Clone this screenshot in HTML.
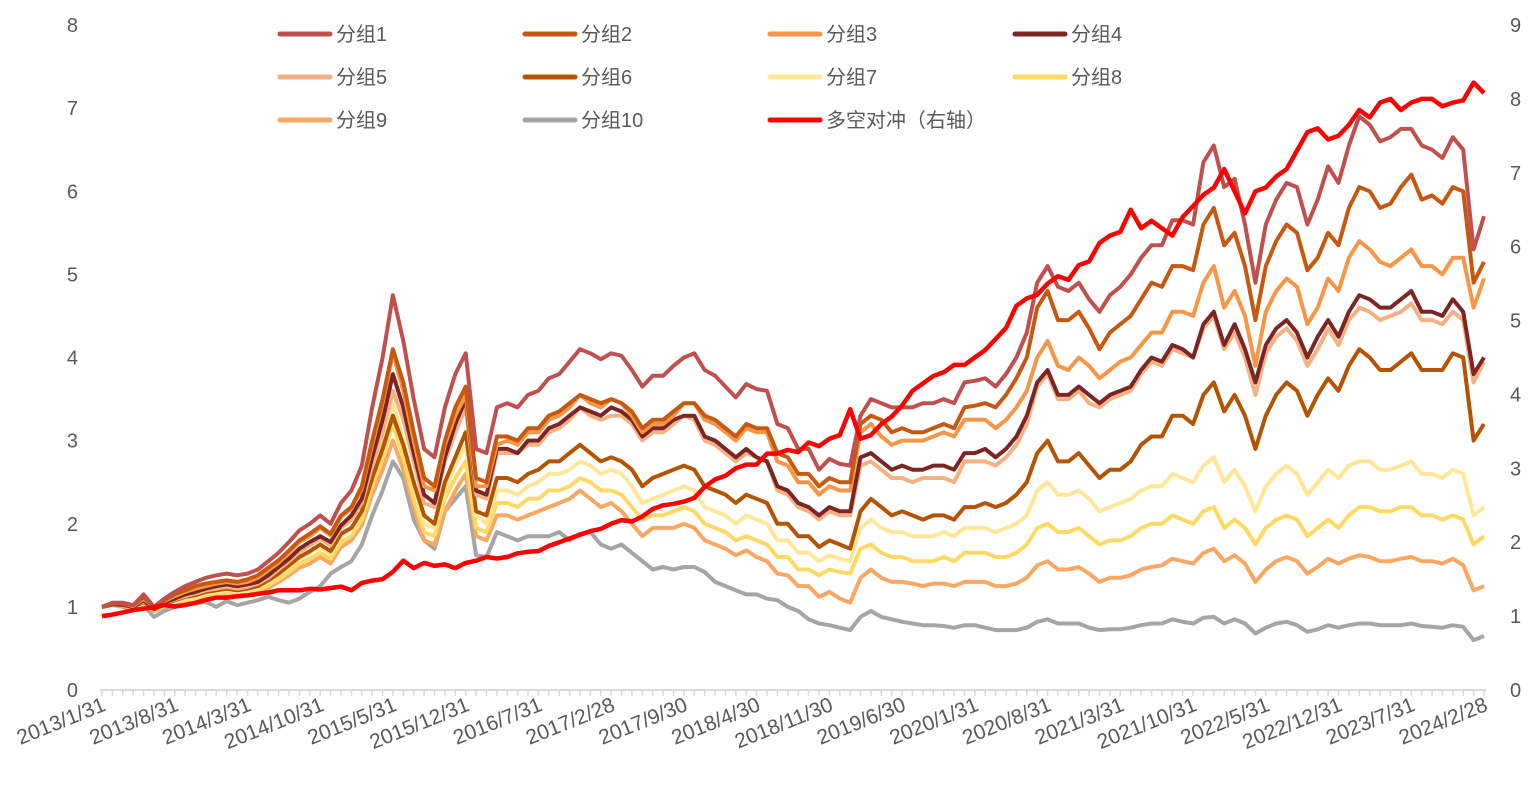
<!DOCTYPE html>
<html><head><meta charset="utf-8"><style>
body{margin:0;background:#fff;}
svg text{font-family:"Liberation Sans","Noto Sans CJK SC",sans-serif;fill:#595959;}
</style></head><body>
<svg id="chart" width="1539" height="789" xmlns="http://www.w3.org/2000/svg"></svg>
<script>
const leftTicks=[0,1,2,3,4,5,6,7,8];
const rightTicks=[0,1,2,3,4,5,6,7,8,9];
const xLabels=["2013/1/31","2013/8/31","2014/3/31","2014/10/31","2015/5/31","2015/12/31","2016/7/31","2017/2/28","2017/9/30","2018/4/30","2018/11/30","2019/6/30","2020/1/31","2020/8/31","2021/3/31","2021/10/31","2022/5/31","2022/12/31","2023/7/31","2024/2/28"];
const seriesNames=["分组1","分组2","分组3","分组4","分组5","分组6","分组7","分组8","分组9","分组10","多空对冲（右轴）"];
const s1=[1.00,1.05,1.05,1.02,1.15,1.00,1.10,1.18,1.25,1.30,1.35,1.38,1.40,1.38,1.40,1.45,1.55,1.65,1.78,1.92,2.00,2.10,2.00,2.25,2.40,2.70,3.40,4.00,4.75,4.20,3.50,2.90,2.80,3.40,3.80,4.05,2.90,2.85,3.40,3.45,3.40,3.55,3.60,3.75,3.80,3.95,4.10,4.05,3.98,4.05,4.02,3.85,3.65,3.78,3.78,3.90,4.00,4.05,3.85,3.78,3.65,3.52,3.68,3.62,3.60,3.20,3.15,2.90,2.90,2.65,2.78,2.72,2.70,3.30,3.50,3.45,3.40,3.40,3.40,3.45,3.45,3.50,3.45,3.70,3.72,3.75,3.65,3.80,4.00,4.30,4.90,5.10,4.85,4.80,4.90,4.70,4.55,4.75,4.85,5.00,5.20,5.35,5.35,5.65,5.65,5.60,6.35,6.55,6.05,6.15,5.60,4.90,5.60,5.90,6.10,6.05,5.60,5.90,6.30,6.10,6.55,6.90,6.80,6.60,6.65,6.75,6.75,6.55,6.50,6.40,6.65,6.50,5.30,5.70];
const s2=[1.00,1.04,1.04,1.02,1.12,1.00,1.08,1.15,1.20,1.25,1.28,1.30,1.32,1.30,1.33,1.38,1.47,1.56,1.68,1.80,1.88,1.97,1.88,2.10,2.20,2.45,3.00,3.50,4.10,3.70,3.10,2.55,2.45,3.00,3.40,3.65,2.55,2.50,3.05,3.05,3.00,3.15,3.15,3.30,3.35,3.45,3.55,3.50,3.45,3.50,3.45,3.35,3.15,3.25,3.25,3.35,3.45,3.45,3.30,3.25,3.15,3.05,3.20,3.15,3.15,2.85,2.80,2.60,2.60,2.45,2.55,2.50,2.50,3.20,3.30,3.25,3.10,3.15,3.10,3.10,3.15,3.20,3.15,3.40,3.42,3.45,3.40,3.55,3.75,4.00,4.60,4.80,4.45,4.45,4.55,4.35,4.10,4.30,4.40,4.50,4.70,4.90,4.85,5.10,5.10,5.05,5.60,5.80,5.35,5.50,5.10,4.45,5.10,5.40,5.60,5.50,5.05,5.20,5.50,5.35,5.80,6.05,6.00,5.80,5.85,6.05,6.20,5.90,5.95,5.85,6.05,6.00,4.90,5.15];
const s3=[1.00,1.04,1.04,1.01,1.10,1.00,1.07,1.13,1.18,1.22,1.25,1.28,1.30,1.28,1.30,1.35,1.44,1.53,1.65,1.78,1.85,1.95,1.86,2.08,2.18,2.42,2.95,3.45,4.05,3.60,3.00,2.45,2.40,2.95,3.30,3.55,2.45,2.45,2.95,3.00,2.95,3.10,3.10,3.25,3.30,3.40,3.55,3.45,3.40,3.50,3.45,3.30,3.10,3.20,3.20,3.30,3.45,3.45,3.25,3.20,3.10,3.00,3.15,3.10,3.10,2.75,2.70,2.50,2.50,2.35,2.45,2.40,2.40,3.10,3.20,3.05,2.95,3.00,3.00,3.00,3.05,3.10,3.05,3.25,3.25,3.25,3.15,3.25,3.40,3.60,4.00,4.20,3.90,3.85,4.00,3.90,3.75,3.85,3.95,4.00,4.15,4.30,4.30,4.55,4.55,4.50,4.90,5.10,4.60,4.80,4.50,3.90,4.55,4.80,4.95,4.85,4.40,4.60,4.95,4.80,5.20,5.40,5.30,5.15,5.10,5.20,5.30,5.10,5.10,5.00,5.20,5.20,4.60,4.95];
const s4=[1.00,1.03,1.03,1.00,1.08,0.98,1.05,1.10,1.15,1.18,1.22,1.25,1.27,1.25,1.27,1.30,1.38,1.48,1.58,1.70,1.78,1.85,1.78,1.98,2.10,2.30,2.80,3.25,3.80,3.40,2.85,2.35,2.25,2.80,3.20,3.50,2.40,2.35,2.90,2.90,2.85,3.00,3.00,3.15,3.20,3.30,3.40,3.35,3.30,3.40,3.35,3.25,3.05,3.15,3.15,3.25,3.30,3.30,3.05,3.00,2.90,2.80,2.90,2.80,2.75,2.45,2.40,2.25,2.20,2.10,2.20,2.15,2.15,2.80,2.85,2.75,2.65,2.70,2.65,2.65,2.70,2.70,2.65,2.85,2.85,2.90,2.80,2.90,3.05,3.30,3.70,3.85,3.55,3.55,3.65,3.55,3.45,3.55,3.60,3.65,3.85,4.00,3.95,4.15,4.10,4.00,4.40,4.55,4.15,4.40,4.10,3.70,4.15,4.35,4.45,4.30,4.00,4.25,4.45,4.25,4.55,4.75,4.70,4.60,4.60,4.70,4.80,4.55,4.55,4.50,4.70,4.55,3.80,4.00];
const s5=[1.00,1.03,1.03,1.00,1.07,0.98,1.04,1.09,1.13,1.16,1.20,1.22,1.24,1.22,1.24,1.28,1.35,1.45,1.55,1.66,1.74,1.82,1.74,1.95,2.05,2.25,2.70,3.10,3.60,3.25,2.75,2.25,2.20,2.75,3.10,3.40,2.35,2.30,2.85,2.85,2.85,2.95,2.95,3.10,3.15,3.25,3.40,3.30,3.25,3.30,3.30,3.20,3.00,3.10,3.10,3.20,3.30,3.25,3.00,2.95,2.85,2.75,2.85,2.80,2.75,2.40,2.35,2.20,2.15,2.05,2.15,2.10,2.10,2.70,2.75,2.65,2.55,2.55,2.50,2.55,2.55,2.55,2.50,2.75,2.75,2.75,2.70,2.80,2.95,3.20,3.65,3.80,3.50,3.50,3.60,3.45,3.40,3.50,3.55,3.60,3.80,3.95,3.90,4.10,4.05,4.00,4.35,4.50,4.10,4.30,4.00,3.55,4.05,4.25,4.35,4.20,3.90,4.10,4.35,4.15,4.45,4.60,4.55,4.45,4.50,4.55,4.65,4.45,4.45,4.40,4.55,4.45,3.70,3.95];
const s6=[1.00,1.03,1.02,1.00,1.06,0.97,1.03,1.08,1.12,1.14,1.18,1.20,1.22,1.20,1.22,1.25,1.32,1.40,1.50,1.60,1.67,1.75,1.67,1.88,1.95,2.15,2.55,2.90,3.30,2.95,2.50,2.10,2.00,2.50,2.80,3.10,2.15,2.10,2.55,2.55,2.50,2.60,2.65,2.75,2.75,2.85,2.95,2.85,2.75,2.80,2.75,2.65,2.45,2.55,2.60,2.65,2.70,2.65,2.45,2.40,2.35,2.25,2.35,2.30,2.25,2.00,2.00,1.85,1.85,1.72,1.80,1.75,1.70,2.15,2.30,2.20,2.10,2.15,2.10,2.05,2.10,2.10,2.05,2.20,2.20,2.25,2.20,2.25,2.35,2.50,2.85,3.00,2.75,2.75,2.85,2.70,2.55,2.65,2.65,2.75,2.95,3.05,3.05,3.30,3.30,3.20,3.55,3.70,3.35,3.55,3.30,2.90,3.30,3.55,3.70,3.60,3.30,3.55,3.75,3.60,3.90,4.10,4.00,3.85,3.85,3.95,4.05,3.85,3.85,3.85,4.05,4.00,3.00,3.20];
const s7=[1.00,1.03,1.02,0.99,1.05,0.97,1.02,1.07,1.10,1.12,1.16,1.18,1.20,1.18,1.20,1.23,1.30,1.38,1.48,1.58,1.65,1.72,1.64,1.85,1.95,2.15,2.60,3.00,3.45,3.00,2.45,2.00,1.95,2.40,2.70,2.95,2.10,2.00,2.40,2.40,2.35,2.45,2.50,2.60,2.60,2.65,2.75,2.70,2.60,2.65,2.60,2.45,2.25,2.30,2.35,2.40,2.45,2.40,2.20,2.15,2.10,2.00,2.10,2.05,2.00,1.80,1.80,1.65,1.65,1.55,1.62,1.58,1.55,1.95,2.05,1.95,1.90,1.90,1.85,1.85,1.85,1.90,1.85,1.95,1.95,1.95,1.90,1.95,2.00,2.10,2.40,2.50,2.35,2.35,2.40,2.30,2.15,2.20,2.25,2.30,2.40,2.45,2.45,2.60,2.55,2.50,2.70,2.80,2.50,2.65,2.45,2.15,2.45,2.60,2.70,2.60,2.35,2.50,2.65,2.55,2.70,2.75,2.75,2.65,2.65,2.70,2.75,2.60,2.60,2.55,2.65,2.60,2.10,2.20];
const s8=[1.00,1.02,1.02,0.99,1.04,0.96,1.01,1.06,1.08,1.10,1.14,1.15,1.17,1.15,1.17,1.20,1.26,1.33,1.42,1.52,1.58,1.65,1.58,1.78,1.85,2.05,2.45,2.80,3.20,2.80,2.30,1.90,1.85,2.30,2.55,2.75,1.95,1.90,2.25,2.25,2.20,2.30,2.30,2.40,2.40,2.45,2.55,2.50,2.40,2.40,2.35,2.20,2.05,2.10,2.10,2.15,2.20,2.15,2.00,1.95,1.90,1.80,1.85,1.80,1.75,1.60,1.60,1.45,1.45,1.38,1.45,1.42,1.40,1.70,1.75,1.65,1.60,1.60,1.55,1.55,1.55,1.60,1.55,1.65,1.65,1.65,1.60,1.60,1.65,1.75,1.95,2.00,1.90,1.90,1.95,1.85,1.75,1.80,1.80,1.85,1.95,2.00,2.00,2.10,2.05,2.00,2.15,2.20,1.95,2.05,1.95,1.75,1.95,2.05,2.10,2.05,1.85,1.95,2.05,1.95,2.10,2.20,2.20,2.15,2.15,2.20,2.20,2.10,2.10,2.05,2.10,2.05,1.75,1.85];
const s9=[1.00,1.02,1.01,0.98,1.03,0.95,1.00,1.04,1.06,1.08,1.11,1.12,1.14,1.12,1.14,1.17,1.23,1.30,1.38,1.47,1.52,1.60,1.52,1.72,1.80,1.98,2.35,2.65,3.00,2.65,2.20,1.80,1.75,2.15,2.40,2.60,1.85,1.80,2.10,2.10,2.05,2.10,2.15,2.20,2.25,2.30,2.40,2.30,2.20,2.25,2.15,2.00,1.85,1.95,1.95,1.95,2.00,1.95,1.80,1.75,1.70,1.62,1.68,1.60,1.55,1.40,1.38,1.25,1.25,1.12,1.18,1.10,1.05,1.35,1.45,1.35,1.30,1.30,1.28,1.25,1.28,1.28,1.25,1.30,1.30,1.30,1.25,1.25,1.28,1.35,1.50,1.55,1.45,1.45,1.48,1.40,1.30,1.35,1.35,1.38,1.45,1.48,1.50,1.58,1.55,1.52,1.65,1.70,1.55,1.62,1.52,1.30,1.45,1.55,1.60,1.55,1.40,1.48,1.58,1.52,1.58,1.62,1.60,1.55,1.55,1.58,1.60,1.55,1.55,1.52,1.58,1.50,1.20,1.25];
const s10=[1.00,1.02,1.00,0.97,1.02,0.88,0.95,1.00,1.03,1.04,1.06,1.00,1.07,1.02,1.05,1.08,1.12,1.08,1.05,1.10,1.18,1.25,1.40,1.48,1.55,1.75,2.10,2.40,2.75,2.55,2.05,1.80,1.70,2.15,2.30,2.45,1.62,1.60,1.90,1.85,1.80,1.85,1.85,1.85,1.90,1.80,1.88,1.90,1.75,1.70,1.75,1.65,1.55,1.45,1.48,1.45,1.48,1.48,1.42,1.30,1.25,1.20,1.15,1.15,1.10,1.08,1.00,0.95,0.85,0.80,0.78,0.75,0.72,0.88,0.95,0.88,0.85,0.82,0.80,0.78,0.78,0.77,0.75,0.78,0.78,0.75,0.72,0.72,0.72,0.75,0.82,0.85,0.80,0.80,0.80,0.75,0.72,0.73,0.73,0.75,0.78,0.80,0.80,0.85,0.82,0.80,0.87,0.88,0.80,0.85,0.80,0.68,0.75,0.80,0.82,0.78,0.70,0.73,0.78,0.75,0.78,0.80,0.80,0.78,0.78,0.78,0.80,0.77,0.76,0.75,0.78,0.76,0.60,0.65];
const hedge=[1.00,1.02,1.05,1.08,1.10,1.12,1.15,1.13,1.15,1.18,1.22,1.25,1.25,1.27,1.28,1.30,1.32,1.35,1.35,1.35,1.37,1.36,1.38,1.40,1.35,1.45,1.48,1.50,1.60,1.75,1.65,1.72,1.68,1.70,1.65,1.72,1.75,1.80,1.78,1.80,1.85,1.87,1.88,1.95,2.00,2.05,2.10,2.15,2.18,2.25,2.30,2.28,2.35,2.45,2.50,2.52,2.55,2.60,2.75,2.85,2.90,3.00,3.05,3.05,3.20,3.20,3.25,3.22,3.35,3.30,3.40,3.45,3.80,3.40,3.45,3.60,3.70,3.85,4.05,4.15,4.25,4.30,4.40,4.40,4.50,4.60,4.75,4.90,5.20,5.30,5.35,5.50,5.60,5.55,5.75,5.80,6.05,6.15,6.20,6.50,6.25,6.35,6.25,6.15,6.40,6.55,6.70,6.80,7.05,6.75,6.45,6.75,6.80,6.95,7.05,7.30,7.55,7.60,7.45,7.50,7.65,7.85,7.75,7.95,8.00,7.85,7.95,8.00,8.00,7.90,7.95,7.98,8.22,8.08];

const svg=document.getElementById('chart');
const NS='http://www.w3.org/2000/svg';
const X0=102,X1=1484,Y0=690,YT=25;
const N=s1.length;
function xs(i){return X0+(X1-X0)*i/(N-1);}
function yl(v){return Y0-(Y0-YT)*v/8;}
function yr(v){return Y0-(Y0-YT)*v/9;}
function mk(tag,attrs){const e=document.createElementNS(NS,tag);for(const k in attrs)e.setAttribute(k,attrs[k]);svg.appendChild(e);return e;}

let ax=mk('line',{x1:X0-2,y1:Y0,x2:X1+2,y2:Y0,stroke:'#d9d9d9','stroke-width':2});


for(let i=0;i<N;i++){
  const t=mk('line',{x1:xs(i),y1:Y0,x2:xs(i),y2:Y0+6,stroke:'#d9d9d9','stroke-width':1.5});
  
  
}
leftTicks.forEach(v=>{
  const t=mk('text',{x:78,y:yl(v)+7,'text-anchor':'end','font-size':20});
  t.textContent=v;
  
  
});
rightTicks.forEach(v=>{
  const t=mk('text',{x:1510,y:yr(v)+7,'text-anchor':'start','font-size':20});
  t.textContent=v;
  
  
});
xLabels.forEach((s,k)=>{
  const x=xs(k*7)+5,y=Y0+20;
  const t=mk('text',{x:x,y:y,'text-anchor':'end','font-size':21,transform:`rotate(-22 ${x} ${y})`});
  t.textContent=s;
  
  
});

const colors=['#C0504D','#C65911','#F79646','#7B2525','#F4B183','#B35400','#FFE699','#FFD966','#F8A862','#A5A5A5','#FF0000'];
const data=[s1,s2,s3,s4,s5,s6,s7,s8,s9,s10];
for(let k=9;k>=0;k--){
  const d=data[k].map((v,i)=>(i?'L':'M')+xs(i).toFixed(1)+' '+yl(v).toFixed(1)).join(' ');
  const p=mk('path',{d:d,fill:'none',stroke:colors[k],'stroke-width':4,'stroke-linejoin':'round'});
  
  
}
{
  const d=hedge.map((v,i)=>(i?'L':'M')+xs(i).toFixed(1)+' '+yr(v).toFixed(1)).join(' ');
  const p=mk('path',{d:d,fill:'none',stroke:'#FF0000','stroke-width':4.5,'stroke-linejoin':'round'});
  
  
}
seriesNames.forEach((n,k)=>{
  const col=k%4,row=Math.floor(k/4);
  const x=278+col*245,y=34+row*43;
  const l=mk('line',{x1:x+2,y1:y,x2:x+52,y2:y,stroke:colors[k],'stroke-width':5,'stroke-linecap':'round'});
  
  
  const t=mk('text',{x:x+58,y:y+7,'font-size':20});
  t.textContent=n;
  
  
});
</script>
</body></html>
